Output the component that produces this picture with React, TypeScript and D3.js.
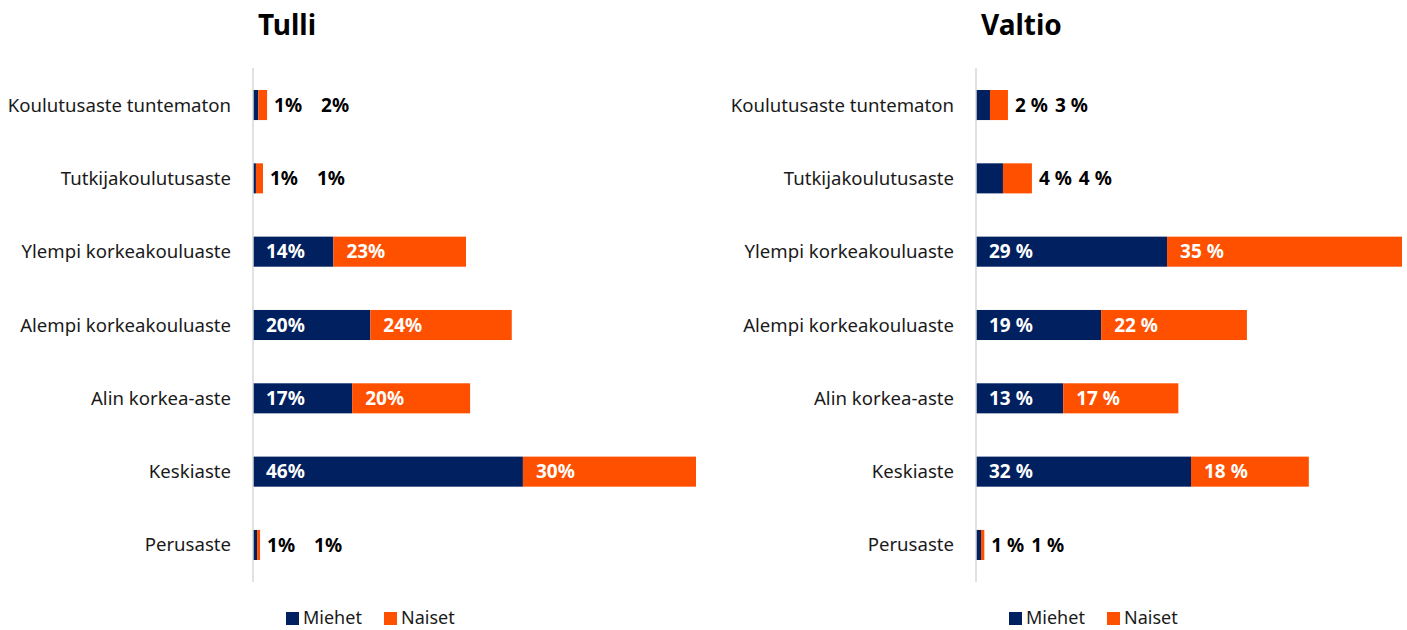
import React, { useEffect, useRef } from "react";
import * as d3 from "d3";

const categories = [
  "Koulutusaste tuntematon",
  "Tutkijakoulutusaste",
  "Ylempi korkeakouluaste",
  "Alempi korkeakouluaste",
  "Alin korkea-aste",
  "Keskiaste",
  "Perusaste",
];
const seriesNames = ["Miehet", "Naiset"];
const panelTitles = ["Tulli", "Valtio"];

// shares in % (labels are rounded)
const tulliMiehet = [0.9, 0.5, 13.7, 20.0, 16.9, 46.0, 0.7];
const tulliNaiset = [1.5, 1.2, 22.6, 24.1, 20.1, 29.5, 0.5];
const valtioMiehet = [2.1, 4.05, 28.7, 18.8, 13.1, 32.3, 0.75];
const valtioNaiset = [2.7, 4.35, 35.3, 21.9, 17.3, 17.7, 0.5];

const colors = ["#002060", "#ff5000"];
const font = "'Noto Sans', sans-serif";

const W = 1407, H = 630;

const panels = [
  { title: panelTitles[0], men: tulliMiehet, women: tulliNaiset, axisX: 253, width: 443, sep: "%", outGap: 19 },
  { title: panelTitles[1], men: valtioMiehet, women: valtioNaiset, axisX: 976, width: 426, sep: " %", outGap: 7 },
];

export default function App() {
  const ref = useRef<SVGSVGElement>(null);

  useEffect(() => {
    const svg = d3.select(ref.current);
    svg.selectAll("*").remove();

    const y = d3.scaleBand<string>()
      .domain(categories)
      .range([68, 582])
      .paddingInner(0.59)
      .paddingOuter(0.3);

    panels.forEach((p) => {
      const totals = p.men.map((m, i) => m + p.women[i]);
      const x = d3.scaleLinear()
        .domain([0, d3.max(totals) as number])
        .range([p.axisX, p.axisX + p.width]);

      const g = svg.append("g");

      g.append("text")
        .attr("x", p.axisX + 5)
        .attr("y", 35)
        .style("font-family", font)
        .style("font-size", "28px")
        .style("font-weight", "bold")
        .attr("fill", "#000")
        .text(p.title);

      // category labels
      g.selectAll(".cat")
        .data(categories)
        .join("text")
        .attr("class", "cat")
        .attr("x", p.axisX - 22)
        .attr("y", (d) => (y(d) as number) + y.bandwidth() / 2)
        .attr("dy", "0.35em")
        .attr("text-anchor", "end")
        .style("font-family", font)
        .style("font-size", "18.6px")
        .attr("fill", "#1a1a1a")
        .text((d) => d);

      const rows = categories.map((c, i) => ({ c, men: p.men[i], women: p.women[i] }));

      // bars
      [0, 1].forEach((s) => {
        g.selectAll(".bar" + s)
          .data(rows)
          .join("rect")
          .attr("class", "bar" + s)
          .attr("x", (d) => (s === 0 ? x(0) : x(d.men)))
          .attr("y", (d) => y(d.c) as number)
          .attr("width", (d) => (s === 0 ? x(d.men) - x(0) : x(d.men + d.women) - x(d.men)))
          .attr("height", y.bandwidth())
          .attr("fill", colors[s]);
      });

      // axis line
      g.append("line")
        .attr("x1", p.axisX)
        .attr("x2", p.axisX)
        .attr("y1", 68)
        .attr("y2", 582)
        .attr("stroke", "#d9d9d9")
        .attr("stroke-width", 1.5);

      // data labels
      rows.forEach((d) => {
        const cy = (y(d.c) as number) + y.bandwidth() / 2;
        const labels = [d.men, d.women].map((v) => Math.round(v) + p.sep);
        if (d.men + d.women < 10) {
          const t1 = g.append("text")
            .attr("x", x(d.men + d.women) + 7)
            .attr("y", cy)
            .attr("dy", "0.35em")
            .style("font-family", font)
            .style("font-size", "19px")
            .style("font-weight", "bold")
            .attr("fill", "#000")
            .text(labels[0]);
          const w = (t1.node() as SVGTextElement).getComputedTextLength();
          g.append("text")
            .attr("x", x(d.men + d.women) + 7 + w + p.outGap)
            .attr("y", cy)
            .attr("dy", "0.35em")
            .style("font-family", font)
            .style("font-size", "19px")
            .style("font-weight", "bold")
            .attr("fill", "#000")
            .text(labels[1]);
        } else {
          [0, 1].forEach((s) => {
            g.append("text")
              .attr("x", (s === 0 ? x(0) : x(d.men)) + 13)
              .attr("y", cy)
              .attr("dy", "0.35em")
              .style("font-family", font)
              .style("font-size", "19px")
              .style("font-weight", "bold")
              .attr("fill", "#fff")
              .text(labels[s]);
          });
        }
      });

      // legend
      const lx = p.axisX + 33;
      const legendOffsets = [0, 98];
      seriesNames.forEach((name, s) => {
        g.append("rect")
          .attr("x", lx + legendOffsets[s])
          .attr("y", 612)
          .attr("width", 13)
          .attr("height", 13)
          .attr("fill", colors[s]);
        g.append("text")
          .attr("x", lx + legendOffsets[s] + 17)
          .attr("y", 624)
          .style("font-family", font)
          .style("font-size", "18px")
          .attr("fill", "#1a1a1a")
          .text(name);
      });
    });
  }, []);

  return (
    <svg
      ref={ref}
      width={W}
      height={H}
      style={{ position: "absolute", left: 0, top: 0, background: "#fff" }}
    />
  );
}
